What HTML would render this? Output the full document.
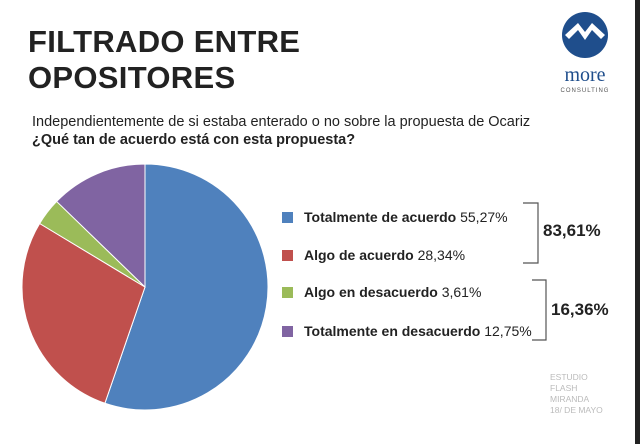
<!DOCTYPE html>
<html><head><meta charset="utf-8"><style>
body{margin:0;width:640px;height:444px;background:#fff;font-family:"Liberation Sans",sans-serif;position:relative;overflow:hidden}
.t{position:absolute;color:#222}
</style></head><body>
<div style="position:absolute;left:635px;top:0;width:5px;height:444px;background:#222"></div>
<div class="t" style="left:28px;top:24px;font-size:31px;font-weight:bold;line-height:36px;letter-spacing:0.3px">FILTRADO ENTRE<br>OPOSITORES</div>
<div class="t" style="left:32px;top:113px;font-size:14.5px;line-height:18px">Independientemente de si estaba enterado o no sobre la propuesta de Ocariz<br><b>¿Qué tan de acuerdo está con esta propuesta?</b></div>
<svg width="80" height="90" style="position:absolute;left:548px;top:8px">
<circle cx="37" cy="27" r="23" fill="#1f4e8c"/>
<path d="M17 27 L30 15 L37 24 L44 15 L57 27 L53 31 L44 22 L37 32 L30 22 L21 31Z" fill="#fff"/>
<text x="37" y="73" text-anchor="middle" font-family="Liberation Serif" font-size="20" fill="#1f4e8c">more</text>
<text x="37" y="84" text-anchor="middle" font-size="6" fill="#555" letter-spacing="1">CONSULTING</text>
</svg>
<svg id="pie" width="300" height="300" style="position:absolute;left:0;top:140px"></svg>
<div id="legend"></div>
<svg width="640" height="444" style="position:absolute;left:0;top:0">
<path d="M523 203 H538 V263 H523" fill="none" stroke="#555" stroke-width="1.2"/>
<path d="M532 280 H546 V340 H532" fill="none" stroke="#555" stroke-width="1.2"/>
<text x="543" y="236" font-size="17" font-weight="bold" fill="#222">83,61%</text>
<text x="551" y="315" font-size="17" font-weight="bold" fill="#222">16,36%</text>
</svg>
<div class="t" style="left:550px;top:372px;font-size:8.5px;line-height:11px;color:#bbb">ESTUDIO<br>FLASH<br>MIRANDA<br>18/ DE MAYO</div>
<script>
const categories=["Totalmente de acuerdo","Algo de acuerdo","Algo en desacuerdo","Totalmente en desacuerdo"];
const values=[55.27,28.34,3.61,12.75];
const labels=["55,27%","28,34%","3,61%","12,75%"];
const colors=["#4f81bd","#c0504d","#9bbb59","#8064a2"];
const ns="http://www.w3.org/2000/svg";
const svg=document.getElementById('pie');
const cx=145,cy=147,r=123;
const total=values.reduce((a,b)=>a+b,0);
let a0=-Math.PI/2;
values.forEach((v,i)=>{
  const a1=a0+v/total*2*Math.PI;
  const p=document.createElementNS(ns,'path');
  const large=(a1-a0)>Math.PI?1:0;
  p.setAttribute('d',`M${cx} ${cy} L${cx+r*Math.cos(a0)} ${cy+r*Math.sin(a0)} A${r} ${r} 0 ${large} 1 ${cx+r*Math.cos(a1)} ${cy+r*Math.sin(a1)}Z`);
  p.setAttribute('fill',colors[i]);p.setAttribute('stroke','#fff');p.setAttribute('stroke-width','1');
  
  
  svg.appendChild(p);a0=a1;
});
const lg=document.getElementById('legend');
const ys=[217,255,292,331];
categories.forEach((c,i)=>{
  const d=document.createElement('div');
  
  
  d.style.cssText=`position:absolute;left:282px;top:${ys[i]-8}px;font-size:14px;color:#222;white-space:nowrap;line-height:16px`;
  d.innerHTML=`<span style="display:inline-block;width:11px;height:11px;background:${colors[i]};margin-right:11px;vertical-align:-1px"></span><b>${c}</b> ${labels[i]}`;
  lg.appendChild(d);
});
</script>
</body></html>
